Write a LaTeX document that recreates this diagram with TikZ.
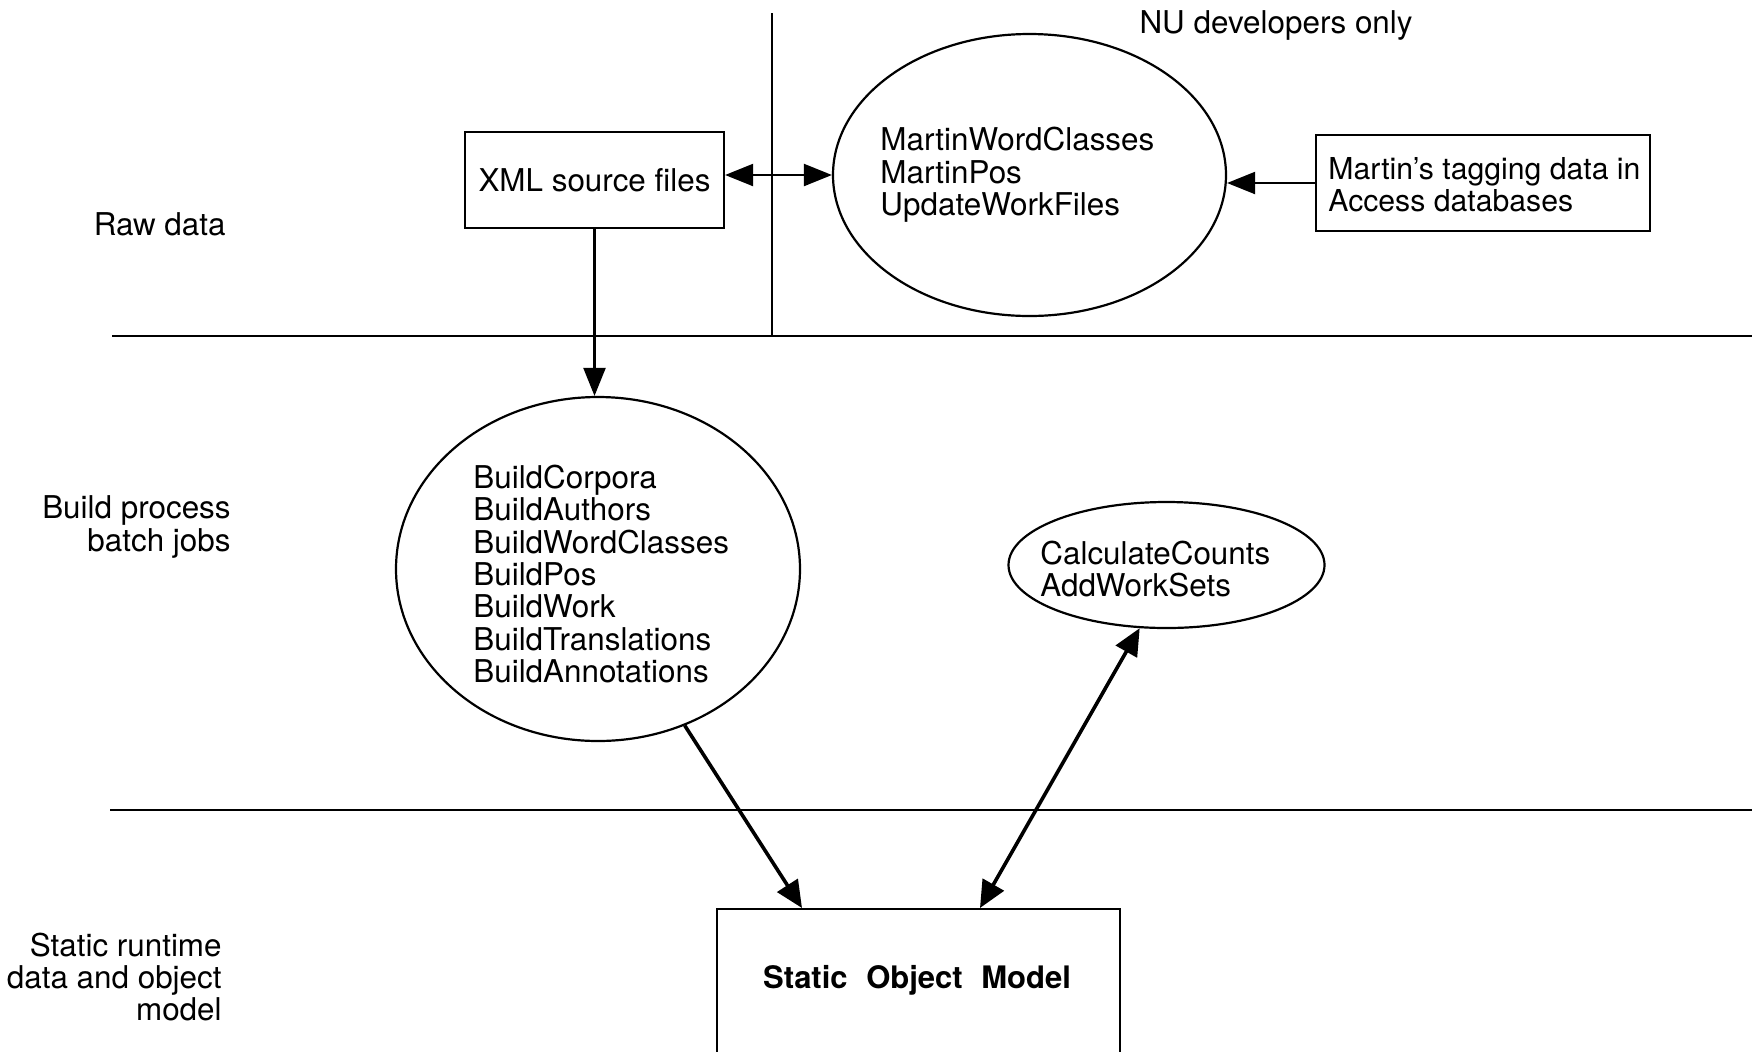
\documentclass[tikz,border=0pt]{standalone}
\usepackage{fontspec}
\setmainfont{TeX Gyre Heros}
\usetikzlibrary{arrows.meta,shapes.geometric,calc}
\begin{document}
\begin{tikzpicture}[x=0.5pt,y=-0.5pt,
  every node/.style={font=\fontsize{15.7}{16.2}\selectfont},
  sepline/.style={line width=1pt},
  box/.style={draw,line width=1.1pt,rectangle,inner sep=0pt},
  proc/.style={draw,line width=1.1pt,ellipse,inner sep=0pt},
  lbl/.style={align=right,anchor=east,inner sep=0pt},
  txt/.style={align=left,anchor=west,inner sep=0pt},
  thinarrow/.style={line width=1.1pt,-{Triangle[length=14pt,width=11pt]}},
  thinboth/.style={line width=1.1pt,{Triangle[length=14pt,width=11pt]}-{Triangle[length=14pt,width=11pt]}},
  thickarrow/.style={line width=1.8pt,-{Triangle[length=13.5pt,width=12pt]}},
  thickboth/.style={line width=1.8pt,{Triangle[length=13.5pt,width=12pt]}-{Triangle[length=13.5pt,width=12pt]}}
]
\useasboundingbox (0,0) rectangle (1752,1051);
\clip (0,0) rectangle (1752,1051);

% separators
\draw[sepline] (112,336) -- (1752,336);
\draw[sepline] (110,810) -- (1752,810);
\draw[sepline] (772,13) -- (772,336);

% row labels
\node[lbl] (raw) at (226,224) {Raw data};
\node[lbl] (buildlbl) at (231,527) {Build process\\batch jobs};
\node[lbl] (staticlbl) at (222,977) {Static runtime\\data and object\\model};
\node[inner sep=0pt] (nu) at (1276,25) {NU developers only};

% nodes
\node[box,minimum width=129.5pt,minimum height=48pt] (xml) at (594.5,180) {XML source files};
\node[proc,minimum width=196.5pt,minimum height=141pt] (martin) at (1029.5,175) {};
\node[txt] (martintxt) at (880,175) {MartinWordClasses\\MartinPos\\UpdateWorkFiles};
\node[box,minimum width=167pt,minimum height=48pt] (mbox) at (1483,183) {};
\node[txt,font=\fontsize{15.1}{16.2}\selectfont] (mboxtxt) at (1328,185) {Martin’s tagging data in\\Access databases};

\node[proc,minimum width=202pt,minimum height=172pt] (build) at (598,569) {};
\node[txt] (buildtxt) at (473,574) {BuildCorpora\\BuildAuthors\\BuildWordClasses\\BuildPos\\BuildWork\\BuildTranslations\\BuildAnnotations};

\node[proc,minimum width=158pt,minimum height=63pt] (counts) at (1166.5,565) {};
\node[txt] (countstxt) at (1040,569) {CalculateCounts\\AddWorkSets};

\node[box,anchor=north west,minimum width=201.5pt,minimum height=150pt] (som) at (716,908) {};
\node[inner sep=0pt,font=\fontsize{15.5}{16.2}\selectfont\bfseries] (somtxt) at (917,980) {Static\hskip 9.3pt Object\hskip 9.3pt Model};

% connectors
\draw[thinboth] (xml.east |- martin.west) -- (martin.west);
\draw[thinarrow] (mbox.west) -- (martin.east |- mbox.west);
\draw[thinarrow] (xml.south) -- (xml.south |- build.north);
\draw[thickarrow] (build.-61) -- ($(som.north west)+(86,0)$);
\draw[thickboth] ($(som.north west)+(264,0)$) -- (counts.247);
\end{tikzpicture}
\end{document}
